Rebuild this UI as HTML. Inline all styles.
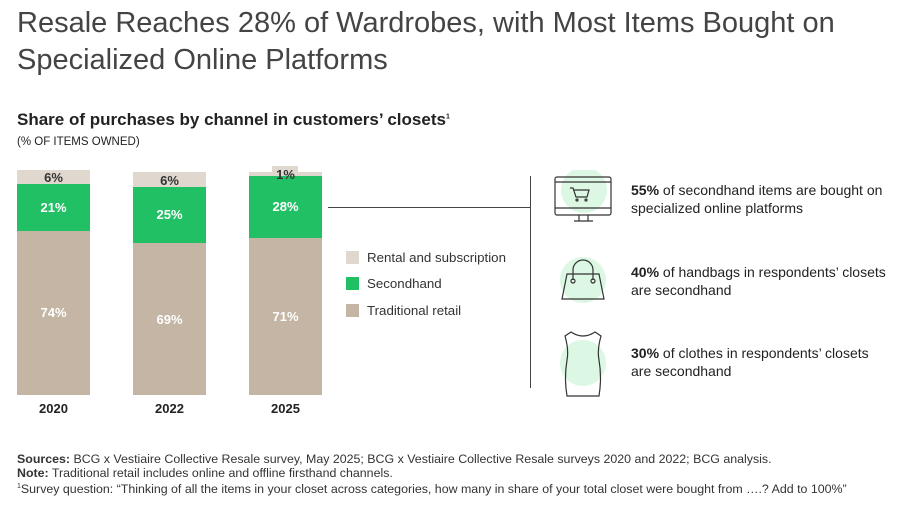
<!DOCTYPE html><html><head><style>
body{margin:0;width:909px;height:512px;background:#fff;font-family:"Liberation Sans",sans-serif;color:#333;position:relative;overflow:hidden}
.a{position:absolute}
.t{font-size:29px;color:#444;left:17px;top:5px;line-height:37px;font-weight:300}
.bar{position:absolute;width:73px}
.lbl{position:absolute;width:73px;text-align:center;font-size:13px;font-weight:bold}
.w{color:#fff}
.yr{position:absolute;width:73px;text-align:center;font-size:13px;font-weight:bold;top:401px;color:#222}
.lg{position:absolute;left:346px;width:13px;height:13px}
.lt{position:absolute;left:367px;font-size:13.3px;color:#333}
.it{position:absolute;left:631px;font-size:14px;line-height:18px;color:#222}
.ft{font-size:12.4px;left:17px;color:#333;line-height:14px}
</style></head><body>
<div class="a t">Resale Reaches 28% of Wardrobes, with Most Items Bought on<br>Specialized Online Platforms</div>
<div class="a" style="left:17px;top:110px;font-size:17px;font-weight:bold;color:#222">Share of purchases by channel in customers’ closets<sup style="font-size:7px">1</sup></div>
<div class="a" style="left:17px;top:136px;font-size:11.5px;color:#222">(% OF ITEMS OWNED)</div>

<div class="bar" style="left:17px;top:170px;height:14px;background:#e0d8cf"></div>
<div class="bar" style="left:17px;top:184px;height:47px;background:#22c064"></div>
<div class="bar" style="left:17px;top:231px;height:164px;background:#c4b5a5"></div>
<div class="lbl" style="left:17px;top:170px">6%</div>
<div class="lbl w" style="left:17px;top:200px">21%</div>
<div class="lbl w" style="left:17px;top:305px">74%</div>

<div class="bar" style="left:133px;top:172px;height:15px;background:#e0d8cf"></div>
<div class="bar" style="left:133px;top:187px;height:56px;background:#22c064"></div>
<div class="bar" style="left:133px;top:243px;height:152px;background:#c4b5a5"></div>
<div class="lbl" style="left:133px;top:173px">6%</div>
<div class="lbl w" style="left:133px;top:207px">25%</div>
<div class="lbl w" style="left:133px;top:312px">69%</div>

<div class="bar" style="left:249px;top:172px;height:4px;background:#e0d8cf"></div>
<div class="a" style="left:272px;top:166px;width:26px;height:17px;background:#e0d8cf"></div>
<div class="bar" style="left:249px;top:176px;height:62px;background:#22c064"></div>
<div class="bar" style="left:249px;top:238px;height:157px;background:#c4b5a5"></div>
<div class="lbl" style="left:249px;top:167px">1%</div>
<div class="lbl w" style="left:249px;top:199px">28%</div>
<div class="lbl w" style="left:249px;top:309px">71%</div>

<div class="yr" style="left:17px">2020</div>
<div class="yr" style="left:133px">2022</div>
<div class="yr" style="left:249px">2025</div>

<div class="lg" style="top:251px;background:#e0d8cf"></div><div class="lt" style="top:250px">Rental and subscription</div>
<div class="lg" style="top:277px;background:#22c064"></div><div class="lt" style="top:276px">Secondhand</div>
<div class="lg" style="top:304px;background:#c4b5a5"></div><div class="lt" style="top:303px">Traditional retail</div>

<div class="a" style="left:328px;top:207px;width:202px;height:1px;background:#444"></div>
<div class="a" style="left:530px;top:176px;width:1px;height:212px;background:#444"></div>

<svg class="a" style="left:550px;top:170px" width="70" height="230" viewBox="0 0 70 230">
<g fill="#dcf7e3"><circle cx="34" cy="20" r="23"/><circle cx="33" cy="110" r="23"/><circle cx="33" cy="193" r="23"/></g>
<g fill="none" stroke="#333" stroke-width="1.2">
<rect x="5" y="7" width="56" height="38" rx="2"/><line x1="5" y1="12" x2="61" y2="12"/><line x1="5" y1="38" x2="61" y2="38"/>
<line x1="29" y1="45" x2="29" y2="51"/><line x1="38" y1="45" x2="38" y2="51"/><line x1="24" y1="51" x2="43" y2="51"/>
<path d="M20 18 h3 l3 9 h11 l2-7 h-15"/><circle cx="27" cy="30" r="1"/><circle cx="36" cy="30" r="1"/>
<path d="M17 104 h32 l5 25 h-42 z"/><path d="M23 110 v-10 a10 10 0 0 1 20 0 v10"/><circle cx="23" cy="111" r="2"/><circle cx="43" cy="111" r="2"/>
<path d="M21 162 q12 8 24 0 l6 4 q-4 14 -2 24 q3 18 0 36 h-32 q-3 -18 0 -36 q2 -10 -2 -24 z"/>
</g></svg>

<div class="it" style="top:181px"><b>55%</b> of secondhand items are bought on<br>specialized online platforms</div>
<div class="it" style="top:263px"><b>40%</b> of handbags in respondents’ closets<br>are secondhand</div>
<div class="it" style="top:344px"><b>30%</b> of clothes in respondents’ closets<br>are secondhand</div>

<div class="a ft" style="top:452px"><b>Sources:</b> BCG x Vestiaire Collective Resale survey, May 2025; BCG x Vestiaire Collective Resale surveys 2020 and 2022; BCG analysis.<br><b>Note:</b> Traditional retail includes online and offline firsthand channels.<br><sup style="font-size:7px">1</sup>Survey question: “Thinking of all the items in your closet across categories, how many in share of your total closet were bought from ….? Add to 100%”</div>
</body></html>
